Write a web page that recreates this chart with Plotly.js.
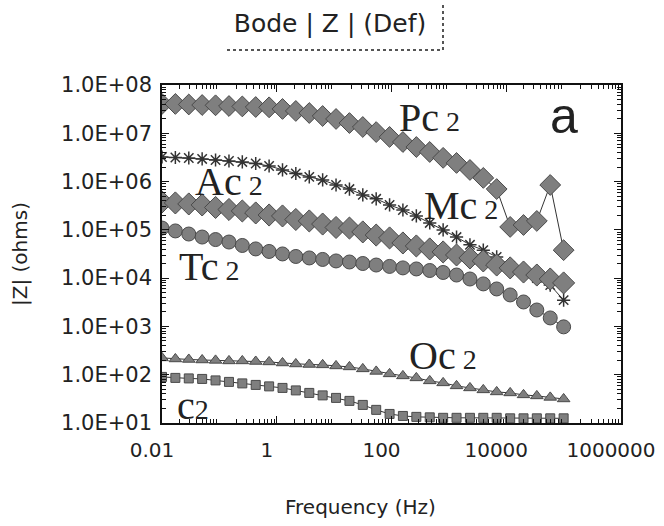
<!DOCTYPE html>
<html>
<head>
<meta charset="utf-8">
<script src="https://cdn.plot.ly/plotly-3.0.1.min.js"></script>
<style>html,body{margin:0;padding:0;background:#fff;}#chart{width:664px;height:526px;}</style>
</head>
<body>
<div id="chart"></div>
<script>
// Frequencies (Hz)
const freq = [0.01, 0.0171, 0.0293, 0.0501, 0.0858, 0.147, 0.251, 0.43, 0.736, 1.26, 2.15, 3.69, 6.31, 10.8, 18.5, 31.6, 54.1, 92.6, 158, 271, 464, 794, 1360, 2330, 3980, 6810, 11700, 20000, 34100, 58400, 100000];

// |Z| values (ohms)
const pc2 = [4.05e7, 4.05e7, 3.95e7, 3.85e7, 3.8e7, 3.67e7, 3.6e7, 3.5e7, 3.45e7, 3.19e7, 2.9e7, 2.63e7, 2.28e7, 1.98e7, 1.63e7, 1.35e7, 1.06e7, 8.4e6, 6.6e6, 5.2e6, 4.1e6, 3.1e6, 2.43e6, 1.74e6, 1.19e6, 7.0e5, 1.15e5, 1.26e5, 1.53e5, 8.5e5, 3.8e4];
const mc2 = [3.23e6, 3.15e6, 3.08e6, 2.94e6, 2.8e6, 2.67e6, 2.55e6, 2.37e6, 2.1e6, 1.74e6, 1.47e6, 1.25e6, 1.08e6, 8.5e5, 7.0e5, 5.3e5, 4.4e5, 3.28e5, 2.58e5, 1.94e5, 1.39e5, 9.95e4, 7.1e4, 4.9e4, 3.8e4, 2.75e4, 1.79e4, 1.34e4, 1.01e4, 7.2e3, 3.5e3];
const ac2 = [3.78e5, 3.61e5, 3.44e5, 3.28e5, 2.91e5, 2.64e5, 2.46e5, 2.24e5, 2.03e5, 1.94e5, 1.64e5, 1.53e5, 1.32e5, 1.12e5, 1.09e5, 9.06e4, 7.8e4, 6.8e4, 5.35e4, 4.64e4, 4.03e4, 3.49e4, 3.02e4, 2.62e4, 2.27e4, 1.87e4, 1.63e4, 1.34e4, 1.16e4, 9.6e3, 7.96e3];
const tc2 = [1.09e5, 9.5e4, 8.2e4, 7.1e4, 6.3e4, 5.6e4, 4.75e4, 4.03e4, 3.57e4, 3.17e4, 2.81e4, 2.62e4, 2.44e4, 2.27e4, 2.16e4, 2.01e4, 1.87e4, 1.75e4, 1.63e4, 1.55e4, 1.44e4, 1.31e4, 1.16e4, 9.6e3, 7.6e3, 5.97e3, 4.49e3, 3.21e3, 2.19e3, 1.5e3, 980];
const oc2 = [223, 212, 207, 202, 198, 193, 193, 188, 184, 175, 167, 163, 160, 152, 145, 132, 117, 104, 94.5, 85.9, 74.5, 67.7, 58.7, 53.3, 48.5, 44.0, 42.0, 38.2, 36.4, 33.9, 31.5];
const c2 = [90, 85.9, 83.8, 81.8, 76.2, 71.0, 66.1, 61.5, 57.3, 53.3, 47.3, 42.0, 37.3, 33.1, 28.7, 23.7, 18.7, 15.4, 14.0, 13.4, 13.1, 12.8, 12.8, 12.8, 12.8, 12.8, 12.5, 12.5, 12.5, 12.5, 12.5];

// Tick labels
const xTickVals = [0.01, 1, 100, 10000, 1000000];
const xTickText = ['0.01', '1', '100', '10000', '1000000'];
const yTickVals = [1e1, 1e2, 1e3, 1e4, 1e5, 1e6, 1e7, 1e8];
const yTickText = ['1.0E+01', '1.0E+02', '1.0E+03', '1.0E+04', '1.0E+05', '1.0E+06', '1.0E+07', '1.0E+08'];

// Minor tick positions (2..9 within each decade)
function minorTicks(d0, d1) {
  const out = [];
  for (let d = d0; d < d1; d++) for (let m = 2; m <= 9; m++) out.push(m * Math.pow(10, d));
  return out;
}
const xMinor = minorTicks(-2, 6);
const yMinor = minorTicks(1, 8);

const lineStyle = {color: '#333', width: 1};
const fill = '#7f7f7f';
const edge = {color: '#4a4a4a', width: 1};

const traces = [
  {name: 'Pc2', x: freq, y: pc2, mode: 'lines+markers', line: lineStyle,
   marker: {symbol: 'diamond', size: 16, color: fill, line: edge}},
  {name: 'Mc2', x: freq, y: mc2, mode: 'lines+markers', line: lineStyle,
   marker: {symbol: 'asterisk-open', size: 11, color: '#333', line: {color: '#333', width: 1.5}}},
  {name: 'Ac2', x: freq, y: ac2, mode: 'lines+markers', line: lineStyle,
   marker: {symbol: 'diamond', size: 17, color: fill, line: edge}},
  {name: 'Tc2', x: freq, y: tc2, mode: 'lines+markers', line: lineStyle,
   marker: {symbol: 'circle', size: 14, color: fill, line: edge}},
  {name: 'Oc2', x: freq, y: oc2, mode: 'lines+markers', line: lineStyle,
   marker: {symbol: 'triangle-up', size: 11, color: fill, line: edge}},
  {name: 'c2', x: freq, y: c2, mode: 'lines+markers', line: lineStyle,
   marker: {symbol: 'square', size: 9, color: fill, line: edge}}
];

const tickFont = {family: 'DejaVu Sans', size: 20, color: '#222'};
const clear = 'rgba(0,0,0,0)';
const axBase = {type: 'log', showgrid: true, gridcolor: clear, linecolor: '#111', linewidth: 1.5,
  tickcolor: '#111', tickwidth: 1, showline: true, mirror: 'ticks', ticks: 'inside', ticklen: 7, tickmode: 'array'};
function minorOf(vals) {
  return {tickmode: 'array', tickvals: vals, ticks: 'inside', ticklen: 4, tickcolor: '#111', showgrid: true, gridcolor: clear};
}

const serif = 'Liberation Serif';
function lab(main, x, y) {
  return {text: main + '<span style="font-size:28px"> 2</span>', xref: 'paper', yref: 'paper', x: x, y: y,
    xanchor: 'left', yanchor: 'middle', showarrow: false, font: {family: serif, size: 40, color: '#222'}};
}

const layout = {
  width: 664, height: 526,
  margin: {l: 162, r: 43, t: 85, b: 103},
  paper_bgcolor: '#fff', plot_bgcolor: '#fff',
  showlegend: false,
  title: {text: 'Bode | Z | (Def)', font: {family: 'DejaVu Sans', size: 25, color: '#222'},
    x: 330 / 664, xref: 'container', xanchor: 'center', y: 1 - 23 / 526, yref: 'container', yanchor: 'middle'},
  xaxis: Object.assign({}, axBase, {range: [-2, 6], tickvals: xTickVals, ticktext: xTickText,
    minor: minorOf(xMinor), tickfont: tickFont, ticklabelstandoff: 8, ticklabelshift: -10}),
  yaxis: Object.assign({}, axBase, {range: [1, 8], tickvals: yTickVals, ticktext: yTickText,
    minor: minorOf(yMinor), tickfont: Object.assign({}, tickFont, {size: 21}), ticklabelstandoff: 4,
    title: {text: '|Z| (ohms)', font: {family: 'DejaVu Sans', size: 20, color: '#222'}, standoff: 28}}),
  annotations: [
    lab('Pc', (397 - 162) / 459, (423 - 117) / 338),
    lab('Mc', (422 - 162) / 459, (423 - 205) / 338),
    lab('Ac', (193 - 162) / 459, (423 - 181) / 338),
    lab('Tc', (177 - 162) / 459, (423 - 266) / 338),
    lab('Oc', (407 - 162) / 459, (423 - 355) / 338),
    {text: 'c<span style="font-size:28px">2</span>', xref: 'paper', yref: 'paper', x: (175 - 162) / 459, y: (423 - 405) / 338,
     xanchor: 'left', yanchor: 'middle', showarrow: false, font: {family: serif, size: 40, color: '#222'}},
    {text: 'a', xref: 'paper', yref: 'paper', x: (564 - 162) / 459, y: (423 - 116) / 338,
     xanchor: 'center', yanchor: 'middle', showarrow: false, font: {family: 'Liberation Sans', size: 50, color: '#222'}},
    {text: 'Frequency (Hz)', xref: 'paper', yref: 'paper', x: (360 - 162) / 459, y: (423 - 507) / 338,
     xanchor: 'center', yanchor: 'middle', showarrow: false, font: {family: 'DejaVu Sans', size: 20, color: '#222'}}
  ],
  shapes: [
    {type: 'line', xref: 'paper', yref: 'paper', x0: (227 - 162) / 459, x1: (443 - 162) / 459, y0: (423 - 50) / 338, y1: (423 - 50) / 338,
     line: {color: '#555', width: 2, dash: 'dot'}},
    {type: 'line', xref: 'paper', yref: 'paper', x0: (443 - 162) / 459, x1: (443 - 162) / 459, y0: (423 - 50) / 338, y1: (423 - 4) / 338,
     line: {color: '#555', width: 2, dash: 'dot'}}
  ]
};

Plotly.newPlot('chart', traces, layout, {displayModeBar: false});
</script>
</body>
</html>
